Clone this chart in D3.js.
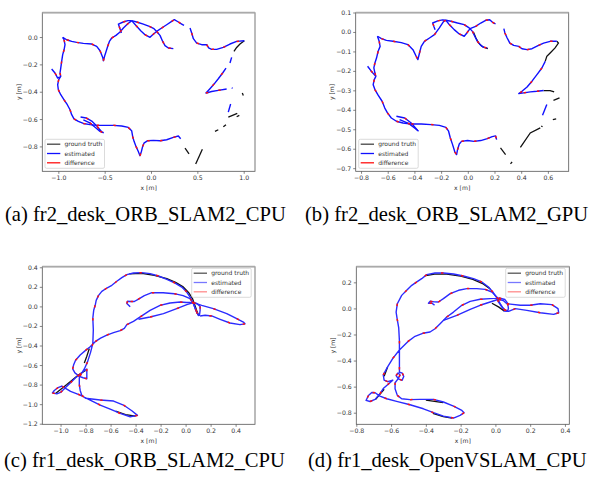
<!DOCTYPE html>
<html>
<head>
<meta charset="utf-8">
<script src="https://cdn.jsdelivr.net/npm/d3@7"></script>
<style>
body { margin: 0; background: #fff; }
svg { display: block; }
.tick text { font-family: "DejaVu Sans", sans-serif; font-size: 6.2px; fill: #333; }
.tick line { stroke: #333; stroke-width: 0.6; }
.axlabel { font-family: "DejaVu Sans", sans-serif; font-size: 6.1px; fill: #333; }
.legtext { font-family: "DejaVu Sans", sans-serif; font-size: 6px; fill: #333; }
.caption { font-family: "Liberation Serif", "Times New Roman", serif; font-size: 20.6px; fill: #000; }
</style>
</head>
<body>
<svg id="fig" width="601" height="477"></svg>
<script>
const legendLabels = ["ground truth", "estimated", "difference"];
const captions = [
  "(a) fr2_desk_ORB_SLAM2_CPU",
  "(b) fr2_desk_ORB_SLAM2_GPU",
  "(c) fr1_desk_ORB_SLAM2_CPU",
  "(d) fr1_desk_OpenVSLAM_CPU"
];

// axis limits and ticks
const aXLim = [-1.173, 1.122], aYLim = [-0.982, 0.178];
const bXLim = [-0.84, 0.756], bYLim = [-0.716, 0.099];
const cXLim = [-1.146, 0.555], cYLim = [-1.206, 0.406];
const dXLim = [-0.80, 0.425], dYLim = [-0.889, 0.32];

const aXTicks = [-1.0, -0.5, 0.0, 0.5, 1.0];
const aYTicks = [0.0, -0.2, -0.4, -0.6, -0.8];
const bXTicks = [-0.8, -0.6, -0.4, -0.2, 0.0, 0.2, 0.4, 0.6];
const bYTicks = [0.1, 0.0, -0.1, -0.2, -0.3, -0.4, -0.5, -0.6, -0.7];
const cXTicks = [-1.0, -0.8, -0.6, -0.4, -0.2, 0.0, 0.2, 0.4];
const cYTicks = [0.4, 0.2, 0.0, -0.2, -0.4, -0.6, -0.8, -1.0, -1.2];
const dXTicks = [-0.8, -0.6, -0.4, -0.2, 0.0, 0.2, 0.4];
const dYTicks = [0.2, 0.0, -0.2, -0.4, -0.6, -0.8];

// (a) fr2 desk, ORB_SLAM2 CPU
const aEst = [
  [[-1.072,-0.234],[-1.036,-0.263],[-1.007,-0.300],[-0.985,-0.292]],
  [[-0.953,-0.002],[-0.938,-0.020],[-0.928,-0.056],[-0.938,-0.093],[-0.953,-0.129],[-0.964,-0.178],[-0.974,-0.227],[-0.982,-0.263],[-0.974,-0.288],[-0.996,-0.312],[-1.007,-0.349],[-1.000,-0.385],[-0.974,-0.422],[-0.938,-0.459],[-0.903,-0.495],[-0.874,-0.532],[-0.856,-0.568],[-0.831,-0.598],[-0.784,-0.617],[-0.730,-0.632],[-0.658,-0.641],[-0.586,-0.646],[-0.496,-0.646],[-0.406,-0.646],[-0.316,-0.651],[-0.245,-0.661],[-0.209,-0.685],[-0.198,-0.727],[-0.183,-0.763],[-0.162,-0.800],[-0.137,-0.837],[-0.119,-0.868],[-0.104,-0.837],[-0.090,-0.800],[-0.076,-0.776],[-0.040,-0.759],[0.025,-0.756],[0.097,-0.759],[0.169,-0.751],[0.241,-0.734],[0.295,-0.724],[0.320,-0.744]],
  [[-0.76,-0.585],[-0.70,-0.592],[-0.64,-0.615],[-0.58,-0.655],[-0.53,-0.695]],
  [[-0.73,-0.605],[-0.66,-0.628],[-0.60,-0.662],[-0.55,-0.690],[-0.51,-0.700]],
  [[-0.953,-0.002],[-0.910,-0.020],[-0.856,-0.032],[-0.802,-0.039],[-0.730,-0.046],[-0.640,-0.051],[-0.586,-0.068],[-0.550,-0.100],[-0.521,-0.149],[-0.514,-0.173],[-0.496,-0.129],[-0.467,-0.068],[-0.449,-0.032],[-0.424,-0.007],[-0.378,0.012],[-0.334,0.037],[-0.298,0.066],[-0.262,0.090],[-0.209,0.120]],
  [[-0.32,0.03],[-0.335,0.06],[-0.352,0.095],[-0.30,0.11],[-0.25,0.12],[-0.209,0.120]],
  [[-0.209,0.120],[-0.155,0.110],[-0.083,0.095],[-0.018,0.078],[0.032,0.061],[0.061,0.041],[0.097,0.012],[0.126,-0.032],[0.151,-0.063],[0.187,-0.080],[0.241,-0.085]],
  [[-0.209,0.120],[-0.162,0.085],[-0.111,0.046],[-0.065,0.017],[-0.011,-0.002],[0.018,0.017],[0.061,0.041],[0.115,0.066],[0.169,0.090],[0.223,0.115],[0.252,0.127],[0.295,0.110],[0.331,0.095],[0.356,0.085]],
  [[0.421,0.066],[0.439,0.029],[0.457,-0.012],[0.493,-0.044],[0.547,-0.056],[0.601,-0.056],[0.622,-0.080],[0.654,-0.090],[0.708,-0.090],[0.780,-0.076],[0.852,-0.051],[0.924,-0.032],[1.007,-0.027]],
  [[0.870,-0.149],[0.852,-0.190]],
  [[0.809,-0.227],[0.773,-0.263],[0.726,-0.305],[0.680,-0.344],[0.636,-0.378],[0.593,-0.410],[0.654,-0.398],[0.726,-0.390],[0.816,-0.380]],
  [[0.874,-0.370],[0.878,-0.376]],
  [[0.859,-0.490],[0.834,-0.549]]
];
const aTruth = [
  [[1.007,-0.027],[0.960,-0.051],[0.924,-0.076],[0.895,-0.105]],
  [[0.985,-0.410],[0.996,-0.427]],
  [[0.834,-0.585],[0.931,-0.559]],
  [[0.924,-0.583],[0.953,-0.573]],
  [[0.809,-0.641],[0.780,-0.656]],
  [[0.726,-0.678],[0.690,-0.690]],
  [[0.367,-0.812],[0.410,-0.854]],
  [[0.554,-0.820],[0.482,-0.929]]
];

// (b) fr2 desk, ORB_SLAM2 GPU
const bEst = [
  [[-0.751,-0.176],[-0.726,-0.199],[-0.701,-0.219],[-0.689,-0.228]],
  [[-0.677,-0.022],[-0.664,-0.048],[-0.657,-0.074],[-0.672,-0.099],[-0.684,-0.134],[-0.696,-0.159],[-0.704,-0.185],[-0.696,-0.211],[-0.689,-0.228],[-0.701,-0.245],[-0.709,-0.271],[-0.696,-0.296],[-0.672,-0.325],[-0.642,-0.356],[-0.622,-0.391],[-0.602,-0.416],[-0.573,-0.442],[-0.535,-0.459],[-0.486,-0.468],[-0.424,-0.473],[-0.349,-0.473],[-0.275,-0.476],[-0.213,-0.480],[-0.164,-0.490],[-0.144,-0.510],[-0.131,-0.545],[-0.114,-0.579],[-0.097,-0.617],[-0.084,-0.630],[-0.077,-0.605],[-0.064,-0.576],[-0.047,-0.562],[-0.002,-0.558],[0.047,-0.562],[0.097,-0.558],[0.146,-0.548],[0.183,-0.538],[0.208,-0.534],[0.216,-0.553]],
  [[-0.535,-0.433],[-0.473,-0.442],[-0.424,-0.468],[-0.374,-0.507]],
  [[-0.511,-0.450],[-0.449,-0.468],[-0.399,-0.493],[-0.369,-0.510]],
  [[-0.677,-0.022],[-0.647,-0.034],[-0.610,-0.043],[-0.560,-0.048],[-0.498,-0.055],[-0.449,-0.065],[-0.411,-0.091],[-0.387,-0.125],[-0.374,-0.142],[-0.362,-0.108],[-0.349,-0.074],[-0.325,-0.048],[-0.287,-0.031],[-0.250,-0.014],[-0.213,0.021],[-0.181,0.055],[-0.164,0.060]],
  [[-0.245,0.012],[-0.255,0.030],[-0.263,0.046],[-0.225,0.057],[-0.190,0.062],[-0.164,0.060]],
  [[-0.164,0.060],[-0.126,0.055],[-0.077,0.046],[-0.027,0.038],[0.010,0.021],[0.035,0.003],[0.052,-0.022],[0.072,-0.048],[0.097,-0.069],[0.121,-0.079],[0.146,-0.082]],
  [[-0.164,0.060],[-0.139,0.038],[-0.102,0.012],[-0.064,-0.010],[-0.027,-0.022],[-0.007,-0.005],[0.017,0.017],[0.059,0.029],[0.097,0.046],[0.134,0.060],[0.164,0.063],[0.183,0.051],[0.208,0.041]],
  [[0.270,0.017],[0.278,-0.005],[0.295,-0.031],[0.315,-0.057],[0.344,-0.069],[0.382,-0.074],[0.406,-0.086],[0.444,-0.091],[0.481,-0.086],[0.530,-0.069],[0.568,-0.057],[0.617,-0.048],[0.667,-0.048]],
  [[0.580,-0.151],[0.555,-0.185],[0.518,-0.219],[0.481,-0.253],[0.444,-0.283],[0.406,-0.305],[0.382,-0.317],[0.419,-0.313],[0.468,-0.308],[0.518,-0.305],[0.568,-0.301]],
  [[0.592,-0.373],[0.560,-0.428]]
];
const bTruth = [
  [[0.667,-0.048],[0.679,-0.057],[0.654,-0.082],[0.617,-0.108],[0.592,-0.125],[0.580,-0.151]],
  [[0.568,-0.301],[0.617,-0.301],[0.647,-0.308]],
  [[0.642,-0.351],[0.687,-0.339]],
  [[0.637,-0.450],[0.662,-0.447]],
  [[0.550,-0.483],[0.560,-0.487]],
  [[0.394,-0.593],[0.468,-0.519],[0.543,-0.493]],
  [[0.245,-0.596],[0.283,-0.630]],
  [[0.320,-0.678],[0.332,-0.668]],
  [[0.042,0.0],[0.060,-0.030],[0.080,-0.056],[0.110,-0.076],[0.150,-0.086]]
];

// (c) fr1 desk, ORB_SLAM2 CPU
const cEst = [
  [[0.110,-0.098],[0.094,-0.074],[0.076,-0.023],[0.063,0.028],[0.041,0.086],[0.009,0.147],[-0.031,0.198],[-0.084,0.239],[-0.150,0.277],[-0.217,0.311],[-0.284,0.335],[-0.350,0.345],[-0.417,0.342],[-0.470,0.325],[-0.510,0.294],[-0.550,0.257],[-0.590,0.216],[-0.630,0.188],[-0.670,0.154],[-0.696,0.113],[-0.715,0.062],[-0.723,0.011],[-0.735,-0.04],[-0.742,-0.12],[-0.738,-0.24],[-0.742,-0.38],[-0.760,-0.47],[-0.785,-0.57],[-0.810,-0.64],[-0.835,-0.69],[-0.850,-0.73],[-0.850,-0.80],[-0.843,-0.86],[-0.830,-0.91],[-0.800,-0.94],[-0.683,-0.958],[-0.576,-0.968],[-0.497,-1.009],[-0.430,-1.067],[-0.385,-1.115],[-0.443,-1.129],[-0.523,-1.095],[-0.603,-1.050],[-0.683,-1.009],[-0.763,-0.958],[-0.843,-0.907],[-0.920,-0.870],[-0.970,-0.830],[-0.990,-0.815],[-1.020,-0.830],[-1.050,-0.860],[-1.065,-0.885],[-1.030,-0.895],[-1.000,-0.880],[-0.960,-0.830],[-0.920,-0.780],[-0.880,-0.730],[-0.850,-0.700],[-0.820,-0.665],[-0.790,-0.640],[-0.790,-0.690],[-0.790,-0.740],[-0.820,-0.730],[-0.850,-0.715],[-0.885,-0.680],[-0.903,-0.640],[-0.896,-0.600],[-0.880,-0.550],[-0.843,-0.497],[-0.800,-0.450],[-0.763,-0.412],[-0.723,-0.361],[-0.680,-0.325],[-0.630,-0.293],[-0.576,-0.269],[-0.523,-0.248],[-0.490,-0.225],[-0.470,-0.187],[-0.417,-0.153],[-0.363,-0.108],[-0.284,-0.040],[-0.204,0.011],[-0.124,0.035],[-0.044,0.045],[0.009,0.040],[0.049,0.042],[0.090,0.030],[0.116,0.000],[0.116,-0.040],[0.110,-0.098]],
  [[-0.443,-0.003],[-0.470,0.030],[-0.465,0.052],[-0.440,0.050],[-0.410,0.050],[-0.380,0.072],[-0.330,0.110],[-0.270,0.140],[-0.180,0.140],[-0.090,0.130],[-0.020,0.110],[0.036,0.079],[0.062,0.028],[0.080,-0.030],[0.100,-0.090]],
  [[-0.377,-0.132],[-0.284,-0.109],[-0.177,-0.074],[-0.071,-0.023],[0.010,0.018],[0.062,0.038],[0.129,0.011],[0.222,-0.023],[0.329,-0.074],[0.409,-0.125],[0.462,-0.160],[0.475,-0.177],[0.435,-0.187],[0.355,-0.170],[0.276,-0.132],[0.209,-0.098],[0.156,-0.091],[0.116,-0.098]]
];
const cTruth = [
  [[-0.45,0.333],[-0.35,0.337],[-0.25,0.318],[-0.15,0.283],[-0.08,0.246],[-0.02,0.200],[0.025,0.140],[0.055,0.080],[0.072,0.020],[0.088,-0.040],[0.105,-0.095]],
  [[-1.04,-0.89],[-0.95,-0.80],[-0.86,-0.705],[-0.80,-0.655]],
  [[-0.77,-0.43],[-0.79,-0.51],[-0.81,-0.58]],
  [[-0.56,-1.072],[-0.48,-1.107],[-0.40,-1.122]]
];

// (d) fr1 desk, OpenVSLAM CPU
const dEst = [
  [[0.070,-0.020],[0.057,-0.015],[0.037,0.011],[0.018,0.049],[0.005,0.087],[-0.015,0.126],[-0.040,0.164],[-0.078,0.203],[-0.126,0.228],[-0.184,0.249],[-0.241,0.264],[-0.299,0.272],[-0.347,0.272],[-0.395,0.259],[-0.424,0.228],[-0.452,0.203],[-0.481,0.177],[-0.510,0.139],[-0.539,0.100],[-0.564,0.036],[-0.571,-0.028],[-0.565,-0.080],[-0.556,-0.150],[-0.552,-0.250],[-0.552,-0.350],[-0.552,-0.450],[-0.552,-0.490],[-0.535,-0.497],[-0.527,-0.522],[-0.537,-0.552],[-0.558,-0.540],[-0.571,-0.515],[-0.560,-0.495],[-0.548,-0.510],[-0.560,-0.540],[-0.577,-0.570],[-0.577,-0.616],[-0.564,-0.667],[-0.539,-0.693],[-0.491,-0.700],[-0.433,-0.698],[-0.356,-0.698],[-0.299,-0.718],[-0.241,-0.749],[-0.193,-0.783],[-0.180,-0.800],[-0.203,-0.820],[-0.241,-0.841],[-0.299,-0.826],[-0.356,-0.800],[-0.414,-0.770],[-0.491,-0.739],[-0.568,-0.713],[-0.625,-0.693],[-0.664,-0.673],[-0.692,-0.647],[-0.711,-0.645],[-0.730,-0.668],[-0.744,-0.706],[-0.721,-0.714],[-0.692,-0.698],[-0.664,-0.655],[-0.645,-0.615],[-0.620,-0.585],[-0.590,-0.550],[-0.620,-0.562],[-0.640,-0.550],[-0.645,-0.510],[-0.619,-0.447],[-0.590,-0.383],[-0.552,-0.319],[-0.504,-0.255],[-0.466,-0.217],[-0.418,-0.191],[-0.376,-0.181],[-0.347,-0.156],[-0.318,-0.118],[-0.280,-0.066],[-0.241,-0.028],[-0.193,0.024],[-0.145,0.054],[-0.088,0.070],[-0.030,0.075],[0.020,0.080],[0.055,0.068],[0.070,0.040],[0.075,0.000],[0.070,-0.020]],
  [[-0.350,0.025],[-0.365,0.040],[-0.385,0.040],[-0.375,0.055],[-0.352,0.050],[-0.328,0.049],[-0.299,0.075],[-0.260,0.113],[-0.212,0.139],[-0.164,0.152],[-0.107,0.152],[-0.059,0.146],[-0.020,0.126],[0.008,0.087],[0.030,0.030],[0.050,-0.010],[0.070,-0.020]],
  [[-0.299,-0.092],[-0.222,-0.053],[-0.145,-0.007],[-0.088,0.024],[-0.030,0.049],[0.018,0.070],[0.045,0.060],[0.066,0.036],[0.143,0.024],[0.200,0.024],[0.258,0.036],[0.325,0.029],[0.360,-0.002],[0.364,-0.033],[0.335,-0.046],[0.258,-0.033],[0.181,-0.015],[0.114,-0.002],[0.076,-0.023],[0.047,-0.020]]
];
const dTruth = [
  [[-0.40,0.251],[-0.35,0.263],[-0.28,0.263],[-0.20,0.247],[-0.13,0.222],[-0.07,0.188],[-0.03,0.150]],
  [[-0.02,0.040],[0.020,0.010],[0.050,-0.020]],
  [[-0.69,-0.70],[-0.64,-0.62]],
  [[-0.62,-0.45],[-0.64,-0.52]],
  [[-0.36,-0.805],[-0.30,-0.830],[-0.25,-0.842]],
  [[-0.40,-0.703],[-0.30,-0.722]]
];

const svg = d3.select("svg#fig");

const panels = [
  {id: "a", est: aEst, truth: aTruth, xLim: aXLim, yLim: aYLim, xTicks: aXTicks, yTicks: aYTicks,
   box: [42.3, 255, 12.7, 171.3], legendAt: [45, 139.3], caption: captions[0], capAt: [5, 221], soft: false},
  {id: "b", est: bEst, truth: bTruth, xLim: bXLim, yLim: bYLim, xTicks: bXTicks, yTicks: bYTicks,
   box: [355.7, 568.7, 12.7, 171.3], legendAt: [358.7, 139.3], caption: captions[1], capAt: [305, 221], soft: false},
  {id: "c", est: cEst, truth: cTruth, xLim: cXLim, yLim: cYLim, xTicks: cXTicks, yTicks: cYTicks,
   box: [42.3, 255, 266.7, 424.3], legendAt: [191.7, 268.3], caption: captions[2], capAt: [4, 467], soft: true},
  {id: "d", est: dEst, truth: dTruth, xLim: dXLim, yLim: dYLim, xTicks: dXTicks, yTicks: dYTicks,
   box: [356.3, 569.3, 266.7, 424.3], legendAt: [505.7, 268.3], caption: captions[3], capAt: [308, 467], soft: true}
];

panels.forEach(drawPanel);

function drawPanel(p) {
  const [l, r, t, b] = p.box;
  const x = d3.scaleLinear().domain(p.xLim).range([l, r]);
  const y = d3.scaleLinear().domain(p.yLim).range([b, t]);
  const g = svg.append("g").attr("class", "panel-" + p.id);

  svg.append("clipPath").attr("id", "clip-" + p.id)
    .append("rect").attr("x", l).attr("y", t).attr("width", r - l).attr("height", b - t);

  const plot = g.append("g").attr("clip-path", "url(#clip-" + p.id + ")");
  const line = d3.line().x(d => x(d[0])).y(d => y(d[1]));

  plot.selectAll("path.truth")
    .data(p.truth)
    .join("path")
    .attr("class", "truth")
    .attr("d", line)
    .attr("fill", "none")
    .attr("stroke", "#111")
    .attr("stroke-width", 1.3);

  plot.selectAll("path.est")
    .data(p.est)
    .join("path")
    .attr("class", "est")
    .attr("d", line)
    .attr("fill", "none")
    .attr("stroke", p.soft ? "#2b2bff" : "#1010ff")
    .attr("stroke-width", 1.4)
    .attr("stroke-linejoin", "round");

  // difference marks: short red strokes at every other traced vertex
  const marks = [];
  p.est.forEach(seg => seg.forEach((pt, i) => {
    if (i % 2 === 1 && i < seg.length - 1) marks.push([pt, seg[i + 1]]);
  }));
  plot.selectAll("line.diff")
    .data(marks)
    .join("line")
    .attr("class", "diff")
    .each(function(d) {
      const x1 = x(d[0][0]), y1 = y(d[0][1]);
      const dx = x(d[1][0]) - x1, dy = y(d[1][1]) - y1;
      const len = Math.hypot(dx, dy) || 1;
      d3.select(this)
        .attr("x1", x1).attr("y1", y1)
        .attr("x2", x1 + 2.4 * dx / len).attr("y2", y1 + 2.4 * dy / len);
    })
    .attr("stroke", "#ff1010")
    .attr("stroke-width", 1.5);

  // axes
  const fmt = d3.format(".1f");
  g.append("g")
    .attr("transform", translate(0, b))
    .call(d3.axisBottom(x).tickValues(p.xTicks).tickSize(2.5).tickPadding(1.5).tickFormat(fmt))
    .call(a => a.select(".domain").remove());
  g.append("g")
    .attr("transform", translate(l, 0))
    .call(d3.axisLeft(y).tickValues(p.yTicks).tickSize(2.5).tickPadding(2).tickFormat(fmt))
    .call(a => a.select(".domain").remove());

  // frame
  g.append("rect")
    .attr("x", l).attr("y", t).attr("width", r - l).attr("height", b - t)
    .attr("fill", "none").attr("stroke", "#555").attr("stroke-width", 0.8);
  g.append("line")
    .attr("x1", l).attr("x2", r).attr("y1", t).attr("y2", t)
    .attr("stroke", "#aaa").attr("stroke-width", 1.8);

  g.append("text").attr("class", "axlabel")
    .attr("x", (l + r) / 2).attr("y", b + 19)
    .attr("text-anchor", "middle")
    .text("x [m]");
  g.append("text").attr("class", "axlabel")
    .attr("transform", translate(l - 21.7, (t + b) / 2) + " rotate(-90)")
    .attr("text-anchor", "middle")
    .text("y [m]");

  drawLegend(g, p.legendAt[0], p.legendAt[1], p.soft);

  svg.append("text").attr("class", "caption")
    .attr("x", p.capAt[0]).attr("y", p.capAt[1])
    .text(p.caption);
}

function drawLegend(g, lx, ly, soft) {
  const colors = soft ? ["#555", "#7878ff", "#ff8c8c"] : ["#444", "#1010ff", "#ff1010"];
  const rows = [4.9, 14.2, 23.5];
  const leg = g.append("g").attr("transform", translate(lx, ly));
  leg.append("rect")
    .attr("width", 59.5).attr("height", 29).attr("rx", 1.5)
    .attr("fill", "#fff").attr("fill-opacity", 0.85)
    .attr("stroke", "#ccc").attr("stroke-width", 0.7);
  leg.selectAll("line.key")
    .data(legendLabels)
    .join("line")
    .attr("x1", 2).attr("x2", 15.3)
    .attr("y1", (d, i) => rows[i]).attr("y2", (d, i) => rows[i])
    .attr("stroke", (d, i) => colors[i])
    .attr("stroke-width", 1.3);
  leg.selectAll("text")
    .data(legendLabels)
    .join("text")
    .attr("class", "legtext")
    .attr("x", 19.5)
    .attr("y", (d, i) => rows[i] + 2.1)
    .text(d => d);
}

function translate(x, y) {
  return "translate(" + String(x) + "," + String(y) + ")";
}
</script>
</body>
</html>
